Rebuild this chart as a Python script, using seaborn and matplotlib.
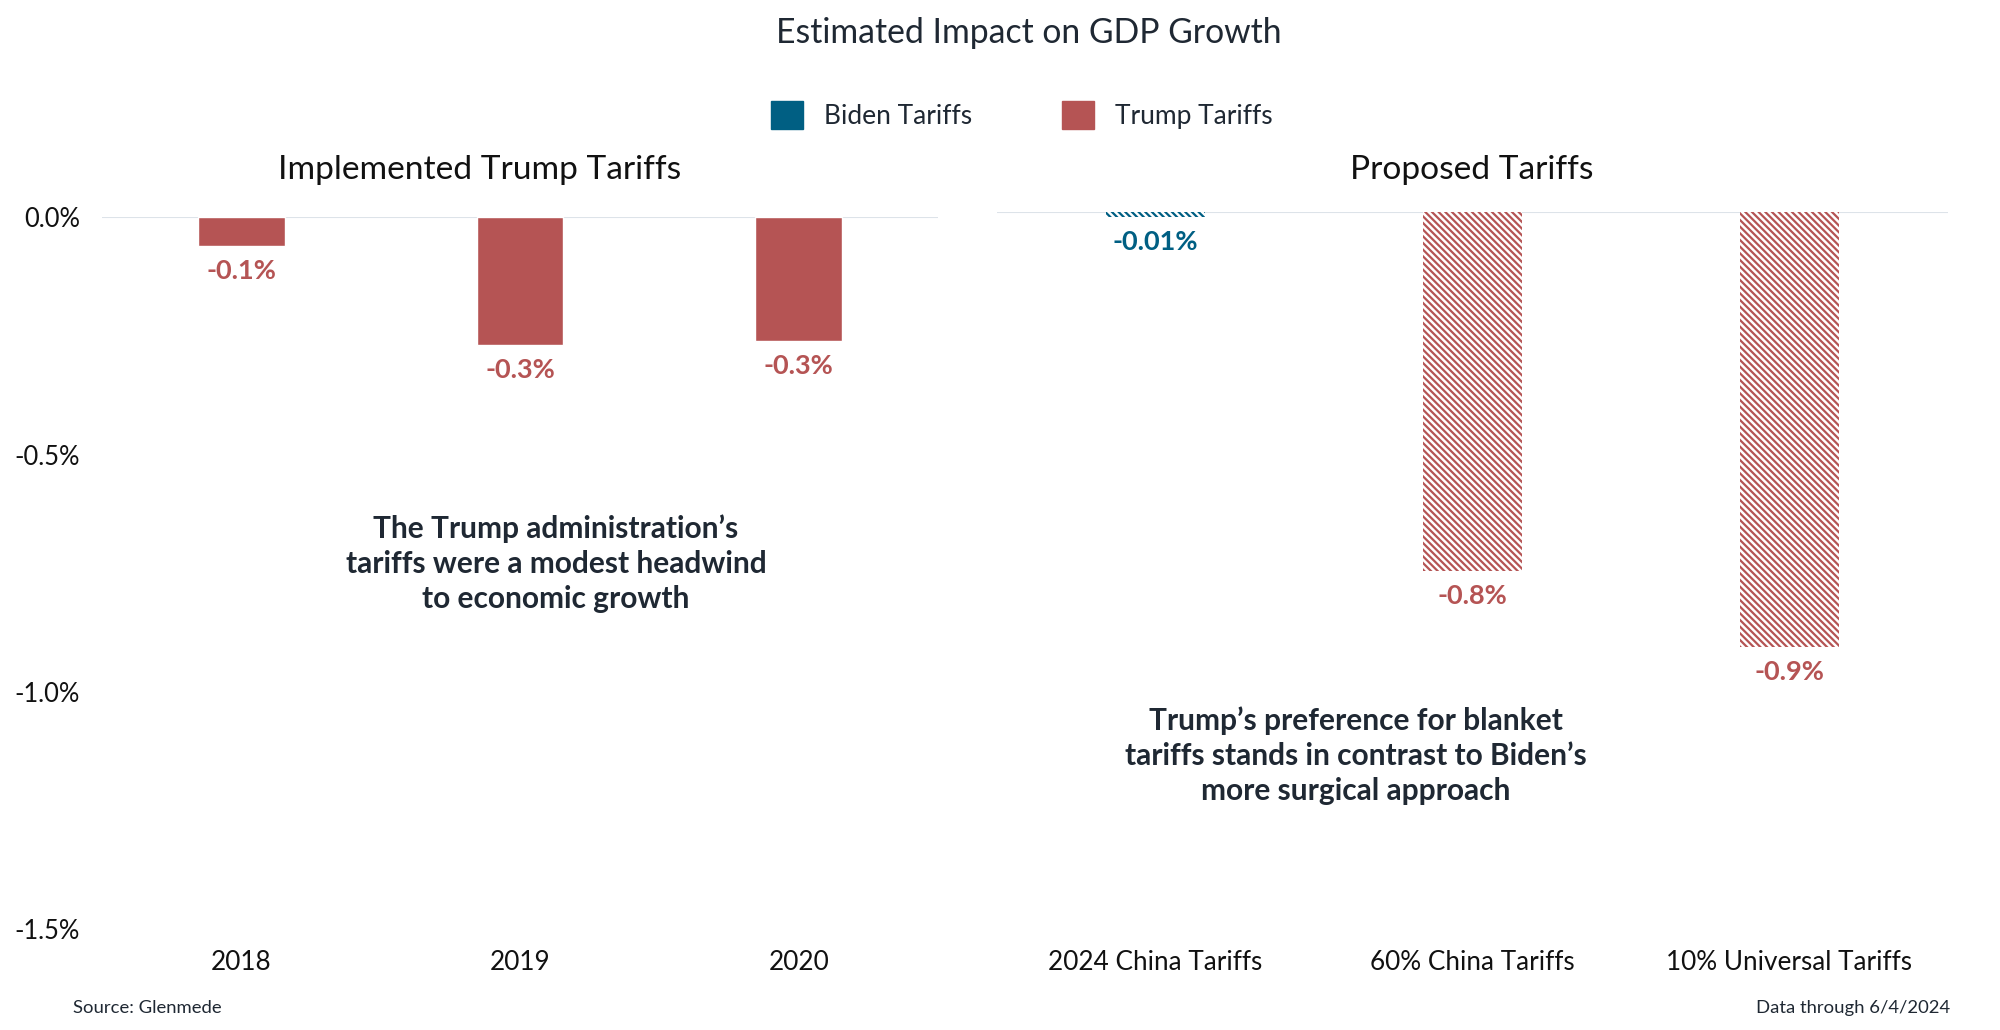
import matplotlib
matplotlib.use("Agg")
import matplotlib.pyplot as plt
from matplotlib.patches import Patch
import seaborn as sns
import pandas as pd

# data
years = ["2018", "2019", "2020"]
implemented = [-0.06, -0.27, -0.26]
implemented_labels = ["-0.1%", "-0.3%", "-0.3%"]

proposed_cats = ["2024 China Tariffs", "60% China Tariffs", "10% Universal Tariffs"]
proposed = [-0.01, -0.75, -0.91]
proposed_party = ["Biden Tariffs", "Trump Tariffs", "Trump Tariffs"]
proposed_labels = ["-0.01%", "-0.8%", "-0.9%"]

y_ticks = [0.0, -0.5, -1.0, -1.5]
y_tick_labels = ["0.0%", "-0.5%", "-1.0%", "-1.5%"]

RED = "#b55454"
BLUE = "#005f83"
TEXT = "#1f2833"
GRID = "#dde3e9"
palette = {"Biden Tariffs": BLUE, "Trump Tariffs": RED}

sns.set_theme(style="white")
plt.rcParams["font.family"] = ["Lato", "DejaVu Sans"]
plt.rcParams["hatch.linewidth"] = 1.6

fig = plt.figure(figsize=(20, 10.3), dpi=100)
ax1 = fig.add_axes([0.051, 0.098, 0.418, 0.691])
ax2 = fig.add_axes([0.4985, 0.098, 0.4755, 0.696])

df1 = pd.DataFrame({"year": years, "value": implemented})
sns.barplot(data=df1, x="year", y="value", color=RED, saturation=1, width=0.31, ax=ax1)

df2 = pd.DataFrame({"cat": proposed_cats, "value": proposed, "party": proposed_party})
sns.barplot(data=df2, x="cat", y="value", hue="party", palette=palette, saturation=1,
            dodge=False, width=0.31, legend=False, ax=ax2)

# hatched bars for the proposed panel
for bar, party in zip(ax2.patches, proposed_party):
    c = palette[party]
    bar.set_facecolor("white")
    bar.set_edgecolor(c)
    bar.set_hatch("\\\\\\\\\\")
    bar.set_linewidth(0)

for ax in (ax1, ax2):
    ax.set_ylim(-1.5, 0)
    ax.set_xlim(-0.5, 2.5)
    ax.axhline(0, color=GRID, lw=1.5, zorder=0)
    for s in ax.spines.values():
        s.set_visible(False)
    ax.set_xlabel("")
    ax.set_ylabel("")
    ax.tick_params(axis="x", length=0, pad=15, labelsize=18.8, labelcolor="#111111")

ax1.set_yticks(y_ticks)
ax1.set_yticklabels(y_tick_labels)
ax1.tick_params(axis="y", length=0, pad=16, labelsize=18.4, labelcolor="#111111")
ax2.set_yticks([])

# value labels under the bars
for i, (v, lab) in enumerate(zip(implemented, implemented_labels)):
    ax1.annotate(lab, (i, v), xytext=(0, -18), textcoords="offset points",
                 ha="center", va="center", fontsize=19.5, fontweight="bold", color=RED)
for i, (v, lab, p) in enumerate(zip(proposed, proposed_labels, proposed_party)):
    ax2.annotate(lab, (i, v), xytext=(0, -18), textcoords="offset points",
                 ha="center", va="center", fontsize=19.5, fontweight="bold", color=palette[p])

# titles
fig.text(1029 / 2000, 1 - 33 / 1030, "Estimated Impact on GDP Growth", ha="center", va="center",
         fontsize=24.3, color=TEXT)
fig.text(480 / 2000, 1 - 170 / 1030, "Implemented Trump Tariffs", ha="center", va="center",
         fontsize=24.1, color="#111111")
fig.text(1472 / 2000, 1 - 170 / 1030, "Proposed Tariffs", ha="center", va="center",
         fontsize=24.1, color="#111111")

# legend
handles = [Patch(facecolor=BLUE, edgecolor=BLUE), Patch(facecolor=RED, edgecolor=RED)]
fig.legend(handles, ["Biden Tariffs", "Trump Tariffs"], loc="center",
           bbox_to_anchor=(1022 / 2000, 1 - 115 / 1030), ncol=2, frameon=False, fontsize=19,
           handlelength=1.2, handleheight=1.3, handletextpad=0.8, columnspacing=3.4,
           labelcolor=TEXT)

# annotations
fig.text(556 / 2000, 1 - 564 / 1030,
         "The Trump administration\u2019s\ntariffs were a modest headwind\nto economic growth",
         ha="center", va="center", fontsize=21.5, fontweight="bold", color=TEXT, linespacing=1.3)
fig.text(1356 / 2000, 1 - 756 / 1030,
         "Trump\u2019s preference for blanket\ntariffs stands in contrast to Biden\u2019s\nmore surgical approach",
         ha="center", va="center", fontsize=21.5, fontweight="bold", color=TEXT, linespacing=1.3)

# footer
fig.text(73 / 2000, 1 - 1008 / 1030, "Source: Glenmede", ha="left", va="center",
         fontsize=13.3, color=TEXT)
fig.text(1950 / 2000, 1 - 1008 / 1030, "Data through 6/4/2024", ha="right", va="center",
         fontsize=13.3, color=TEXT)

fig.savefig("out.png", dpi=100, facecolor="white")
